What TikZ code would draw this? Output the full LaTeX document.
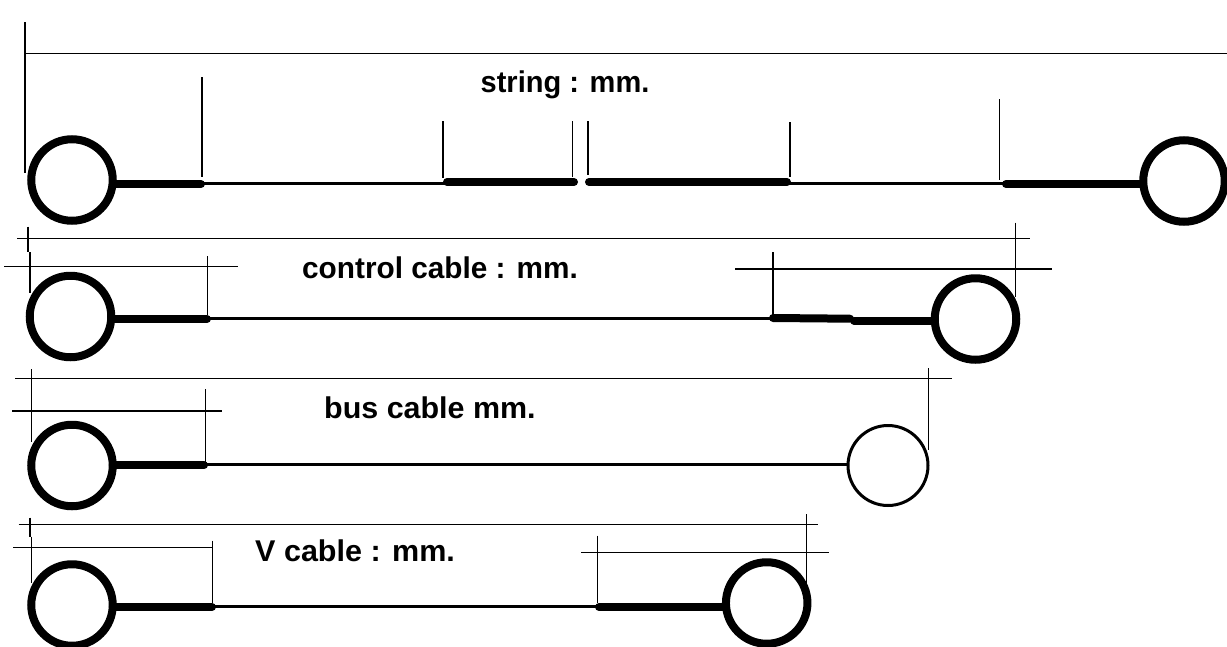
\documentclass[tikz,border=0pt]{standalone}
\usepackage{fontspec}
\setmainfont{Liberation Sans}
\tikzset{%
  ring/.style = {circle, draw, line width=8pt, inner sep=0pt, outer sep=0pt, minimum size=81.5pt},
  thinring/.style = {ring, line width=3pt, minimum size=80pt},
  dim/.style = {line width=1.5pt},
  wire/.style = {line width=3pt},
  sleeve/.style = {line width=8pt, line cap=round},
  cableLabel/.style = {anchor=base west, inner sep=0pt, font=\fontsize{30}{30}\selectfont\bfseries}
  }
\begin{document}
\begin{tikzpicture}[x=1pt,y=-1pt]
    \useasboundingbox (0,0) rectangle (1227,646);

    % string
    \node (strL) [ring] at (72,180) {};
    \node (strR) [ring] at (1184,181) {};
    \node (strLabel) [cableLabel, xscale=.967] at (480.5,92) {string : mm.};
    \coordinate (s1) at (201,184);
    \coordinate (s2) at (447,182);
    \coordinate (s3) at (574,182);
    \coordinate (s4) at (589,182);
    \coordinate (s5) at (787,182);
    \coordinate (s6) at (1006,184);
    \coordinate (sWire) at (0,183);
    \coordinate (sTopA) at (25,22);
    \coordinate (sTopB) at (25,173);
    \coordinate (sTopC) at (25,53.5);
    \coordinate (sTopD) at (1227,53.5);
    \coordinate (sT1a) at (202,77);
    \coordinate (sT1b) at (202,177);
    \coordinate (sT2a) at (443,121);
    \coordinate (sT2b) at (443,178);
    \coordinate (sT3a) at (572.5,121);
    \coordinate (sT3b) at (572.5,177);
    \coordinate (sT4a) at (588,121);
    \coordinate (sT4b) at (588,175);
    \coordinate (sT5a) at (790,122);
    \coordinate (sT5b) at (790,177);
    \coordinate (sT6a) at (999.5,99);
    \coordinate (sT6b) at (999.5,180);

    \path (strL.east |- s1) edge [sleeve] (s1)
          (s1 |- sWire)     edge [wire] (s2 |- sWire)
          (s2)              edge [sleeve] (s3)
          (s4)              edge [sleeve] (s5)
          (s5 |- sWire)     edge [wire] (s6 |- sWire)
          (s6)              edge [sleeve] (strR.west |- s6);
    \path (sTopA) edge [dim] (sTopB)
          (sTopC) edge [dim] (sTopD)
          (sT1a)  edge [dim] (sT1b)
          (sT2a)  edge [dim] (sT2b)
          (sT3a)  edge [dim] (sT3b)
          (sT4a)  edge [dim] (sT4b)
          (sT5a)  edge [dim] (sT5b)
          (sT6a)  edge [dim] (sT6b);

    % control cable
    \node (ctlL) [ring] at (70.5,316.5) {};
    \node (ctlR) [ring] at (975.5,319) {};
    \node (ctlLabel) [cableLabel, xscale=.992] at (302,278.5) {control cable : mm.};
    \coordinate (c1) at (207,319);
    \coordinate (c2) at (773,318);
    \coordinate (c3) at (850,318.7);
    \coordinate (c4) at (854,320.7);
    \coordinate (cWire) at (0,318);
    \coordinate (cTopA) at (17,238.5);
    \coordinate (cTopB) at (1030,238.5);
    \coordinate (cLa) at (28,226.7);
    \coordinate (cLb) at (28,252);
    \coordinate (cLc) at (30,252);
    \coordinate (cLd) at (30,293);
    \coordinate (cHa) at (4,266.7);
    \coordinate (cHb) at (238,266.7);
    \coordinate (cT1a) at (207.5,256);
    \coordinate (cT1b) at (207.5,315);
    \coordinate (cT2a) at (773,252);
    \coordinate (cT2b) at (773,315);
    \coordinate (cHc) at (735,269);
    \coordinate (cHd) at (1052,269);
    \coordinate (cRa) at (1015.7,222.7);
    \coordinate (cRb) at (1015.7,297);

    \path (ctlL.east |- c1) edge [sleeve] (c1)
          (c1 |- cWire)     edge [wire] (c2 |- cWire)
          (c2)              edge [sleeve] (c3)
          (c4)              edge [sleeve] (ctlR.west |- c4);
    \path (cTopA) edge [dim] (cTopB)
          (cLa)   edge [dim] (cLb)
          (cLc)   edge [dim] (cLd)
          (cHa)   edge [dim] (cHb)
          (cT1a)  edge [dim] (cT1b)
          (cT2a)  edge [dim] (cT2b)
          (cHc)   edge [dim] (cHd)
          (cRa)   edge [dim] (cRb);

    % bus cable
    \node (busL) [ring] at (72,465.5) {};
    \node (busR) [thinring] at (888,465.5) {};
    \node (busLabel) [cableLabel, xscale=1.015] at (324,418) {bus cable mm.};
    \coordinate (b1) at (204,465.3);
    \coordinate (bWire) at (0,464.7);
    \coordinate (bTopA) at (15,378.3);
    \coordinate (bTopB) at (952,378.3);
    \coordinate (bLa) at (31.6,369);
    \coordinate (bLb) at (31.6,441.7);
    \coordinate (bHa) at (12,411);
    \coordinate (bHb) at (222,411);
    \coordinate (bT1a) at (205.6,389);
    \coordinate (bT1b) at (205.6,461.7);
    \coordinate (bRa) at (928.7,368);
    \coordinate (bRb) at (928.7,450);

    \path (busL.east |- b1) edge [sleeve] (b1)
          (b1 |- bWire)     edge [wire] (busR.west |- bWire);
    \path (bTopA) edge [dim] (bTopB)
          (bLa)   edge [dim] (bLb)
          (bHa)   edge [dim] (bHb)
          (bT1a)  edge [dim] (bT1b)
          (bRa)   edge [dim] (bRb);

    % V cable
    \node (vL) [ring] at (72,605) {};
    \node (vR) [ring] at (766.7,603) {};
    \node (vLabel) [cableLabel, xscale=1.018] at (255,561) {V cable : mm.};
    \coordinate (v1) at (212,607);
    \coordinate (v2) at (599,607);
    \coordinate (vWire) at (0,606.3);
    \coordinate (vTopA) at (18.6,524.3);
    \coordinate (vTopB) at (818,524.3);
    \coordinate (vLa) at (30,517.7);
    \coordinate (vLb) at (30,536.7);
    \coordinate (vLc) at (31.6,536.7);
    \coordinate (vLd) at (31.6,583);
    \coordinate (vHa) at (13.4,547.7);
    \coordinate (vHb) at (212.7,547.7);
    \coordinate (vT1a) at (212.7,540.7);
    \coordinate (vT1b) at (212.7,603);
    \coordinate (vT2a) at (597.3,535.7);
    \coordinate (vT2b) at (597.3,603);
    \coordinate (vHc) at (581,552.3);
    \coordinate (vHd) at (828.7,552.3);
    \coordinate (vRa) at (806.7,514.3);
    \coordinate (vRb) at (806.7,583);

    \path (vL.east |- v1) edge [sleeve] (v1)
          (v1 |- vWire)   edge [wire] (v2 |- vWire)
          (v2)            edge [sleeve] (vR.west |- v2);
    \path (vTopA) edge [dim] (vTopB)
          (vLa)   edge [dim] (vLb)
          (vLc)   edge [dim] (vLd)
          (vHa)   edge [dim] (vHb)
          (vT1a)  edge [dim] (vT1b)
          (vT2a)  edge [dim] (vT2b)
          (vHc)   edge [dim] (vHd)
          (vRa)   edge [dim] (vRb);
  \end{tikzpicture}
\end{document}
